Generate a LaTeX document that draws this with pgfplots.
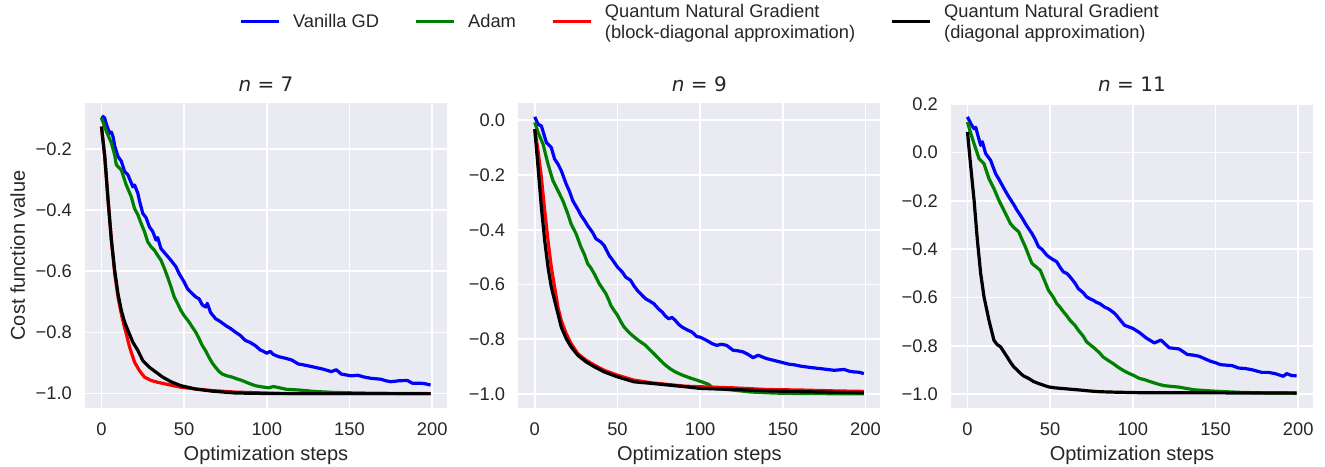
\documentclass[border=0pt]{standalone}
\usepackage{fontspec}
\setmainfont{Liberation Sans}
\newfontfamily\dejavu{DejaVu Sans}
\usepackage{pgfplots}
\pgfplotsset{compat=1.18}
\definecolor{bgc}{RGB}{234,234,242}
\definecolor{txt}{RGB}{38,38,38}
\definecolor{mgreen}{RGB}{0,128,0}
\pgfplotsset{panel/.style={
  width=362pt, height=305pt, scale only axis, anchor=south west,
  xmin=-9.95, xmax=208.95,
  axis background/.style={fill=bgc},
  axis line style={draw=none},
  grid=major, major grid style={white, line width=1.7pt},
  major tick length=0pt,
  xtick={0,50,100,150,200},
  xticklabels={0,50,100,150,200},
  tick label style={font=\fontsize{18.3}{22}\selectfont, text=txt, inner sep=0pt},
  xticklabel style={anchor=base, yshift=-27pt},
  yticklabel style={anchor=east, xshift=-13pt},
  xlabel={Optimization steps},
  every axis x label/.style={at={(axis description cs:0.5,-0.1705)}, anchor=base, font=\fontsize{20}{24}\selectfont, text=txt, inner sep=0pt},
  every axis y label/.style={at={(axis description cs:-0.16575,0.5)}, rotate=90, anchor=base, font=\fontsize{20}{24}\selectfont, text=txt, inner sep=0pt},
  every axis title/.style={at={(axis description cs:0.5,1.0393)}, anchor=base, font=\fontsize{20}{24}\selectfont\dejavu, text=txt, inner sep=0pt},
  every axis plot/.append style={line width=3.2pt, line join=round, no marks},
}}
\begin{document}
\begin{tikzpicture}
\useasboundingbox (0,0) rectangle (1325pt,466pt);
% ---------------- n = 7 ----------------
\begin{axis}[panel, at={(85pt,58pt)},
  ymin=-1.047, ymax=-0.05,
  ytick={-1,-0.8,-0.6,-0.4,-0.2},
  yticklabels={−1.0,−0.8,−0.6,−0.4,−0.2},
  ylabel={Cost function value},
  title={{\itshape n} = 7},
  legend columns=4,
  legend style={draw=none, fill=none, at={(axis description cs:0.3343,1.2656)}, anchor=west,
    font=\fontsize{18.3}{21}\selectfont, text=txt, inner sep=0pt, outer sep=0pt,
    column sep=0pt, row sep=0pt,
    cells={anchor=west, align=left, inner sep=0pt, outer sep=0pt}},
  legend image code/.code={\path[draw=none, fill=none] (-35pt,0pt) -- (50pt,0pt);\draw[#1, line width=3pt] (0pt,0pt) -- (38pt,0pt);},
]
\addplot[blue] coordinates {(0,-0.105) (1,-0.094) (2,-0.10) (3,-0.12) (5,-0.149) (6,-0.145) (7,-0.16) (8,-0.19) (10,-0.225) (12,-0.24) (14,-0.274) (16,-0.285) (19,-0.324) (20,-0.318) (22,-0.345) (23,-0.37) (25,-0.411) (27,-0.425) (29,-0.455) (31,-0.47) (33,-0.498) (34,-0.49) (36,-0.526) (39,-0.545) (42,-0.564) (45,-0.585) (47,-0.608) (50,-0.635) (52,-0.657) (54,-0.668) (57,-0.684) (59,-0.69) (61,-0.71) (63,-0.717) (64,-0.705) (66,-0.735) (69,-0.755) (72,-0.765) (75,-0.777) (78,-0.787) (81,-0.799) (84,-0.81) (87,-0.826) (90,-0.833) (93,-0.843) (96,-0.857) (98,-0.862) (100,-0.868) (102,-0.862) (104,-0.872) (107,-0.879) (111,-0.884) (115,-0.890) (119,-0.903) (124,-0.908) (129,-0.914) (134,-0.92) (139,-0.928) (142,-0.922) (145,-0.936) (151,-0.942) (155,-0.94) (159,-0.946) (163,-0.950) (169,-0.953) (172,-0.958) (175,-0.961) (180,-0.958) (185,-0.957) (188,-0.966) (193,-0.966) (196,-0.968) (199,-0.972)};
\addlegendentry{Vanilla GD}
\addplot[mgreen] coordinates {(0,-0.099) (3,-0.143) (6,-0.181) (8,-0.22) (9,-0.252) (12,-0.269) (15,-0.318) (18,-0.356) (20,-0.395) (22,-0.415) (24,-0.444) (26,-0.47) (28,-0.504) (30,-0.52) (32,-0.531) (34,-0.548) (36,-0.564) (38,-0.59) (40,-0.619) (42,-0.65) (44,-0.684) (46,-0.705) (48,-0.728) (50,-0.745) (53,-0.766) (55,-0.783) (57,-0.799) (59,-0.82) (61,-0.843) (63,-0.86) (65,-0.881) (67,-0.9) (69,-0.914) (71,-0.927) (73,-0.936) (76,-0.942) (79,-0.946) (82,-0.952) (85,-0.957) (89,-0.966) (93,-0.974) (97,-0.978) (101,-0.981) (104,-0.977) (106,-0.979) (112,-0.986) (119,-0.988) (129,-0.993) (140,-0.996) (155,-0.998) (170,-0.999) (199,-1.0)};
\addlegendentry{Adam}
\addplot[red] coordinates {(0,-0.127) (2,-0.225) (4,-0.367) (6,-0.498) (8,-0.608) (10,-0.684) (12,-0.739) (14,-0.785) (15,-0.804) (17,-0.848) (20,-0.897) (23,-0.925) (26,-0.946) (30,-0.957) (34,-0.963) (40,-0.970) (48,-0.979) (57,-0.985) (67,-0.990) (81,-0.995) (105,-0.999) (130,-1.0) (199,-1.0)};
\addlegendentry{Quantum Natural Gradient\\(block-diagonal approximation)}
\addplot[black] coordinates {(0,-0.127) (2,-0.225) (4,-0.367) (6,-0.498) (8,-0.597) (10,-0.673) (12,-0.728) (14,-0.766) (16,-0.793) (19,-0.832) (22,-0.859) (25,-0.892) (29,-0.914) (33,-0.930) (37,-0.946) (42,-0.961) (48,-0.974) (57,-0.985) (67,-0.992) (81,-0.998) (105,-1.0) (199,-1.0)};
\addlegendentry{Quantum Natural Gradient\\(diagonal approximation)}
\end{axis}
% ---------------- n = 9 ----------------
\begin{axis}[panel, at={(518.3pt,58pt)},
  ymin=-1.0506, ymax=0.0626,
  ytick={-1,-0.8,-0.6,-0.4,-0.2,0},
  yticklabels={−1.0,−0.8,−0.6,−0.4,−0.2,0.0},
  title={{\itshape n} = 9},
]
\addplot[blue] coordinates {(0,0.012) (2,-0.015) (4,-0.021) (7,-0.081) (10,-0.100) (12,-0.142) (14,-0.16) (16,-0.184) (19,-0.233) (21,-0.26) (23,-0.294) (26,-0.325) (28,-0.348) (30,-0.365) (32,-0.385) (35,-0.41) (37,-0.433) (40,-0.445) (42,-0.458) (45,-0.494) (47,-0.51) (50,-0.536) (53,-0.555) (55,-0.573) (58,-0.585) (60,-0.605) (62,-0.621) (65,-0.64) (67,-0.652) (70,-0.662) (72,-0.670) (75,-0.69) (77,-0.700) (79,-0.715) (81,-0.725) (83,-0.72) (85,-0.731) (87,-0.745) (89,-0.755) (92,-0.765) (95,-0.773) (98,-0.79) (100,-0.792) (104,-0.804) (107,-0.815) (110,-0.822) (113,-0.818) (116,-0.822) (120,-0.840) (123,-0.842) (126,-0.846) (129,-0.855) (132,-0.867) (135,-0.858) (140,-0.870) (144,-0.876) (148,-0.882) (154,-0.891) (157,-0.893) (161,-0.898) (167,-0.903) (173,-0.907) (177,-0.91) (181,-0.913) (187,-0.910) (190,-0.916) (193,-0.919) (196,-0.92) (199,-0.925)};
\addplot[mgreen] coordinates {(0,-0.008) (2,-0.045) (5,-0.087) (8,-0.160) (11,-0.221) (14,-0.257) (17,-0.294) (20,-0.342) (22,-0.379) (25,-0.415) (28,-0.464) (30,-0.49) (32,-0.524) (34,-0.54) (36,-0.561) (39,-0.597) (41,-0.615) (43,-0.633) (45,-0.66) (46,-0.676) (48,-0.695) (50,-0.712) (52,-0.735) (54,-0.755) (57,-0.775) (60,-0.791) (63,-0.805) (67,-0.822) (70,-0.84) (73,-0.858) (76,-0.877) (79,-0.894) (82,-0.908) (85,-0.919) (89,-0.93) (93,-0.939) (97,-0.947) (101,-0.955) (105,-0.964) (108,-0.979) (114,-0.982) (120,-0.985) (130,-0.992) (140,-0.995) (150,-0.997) (170,-0.998) (199,-0.999)};
\addplot[red] coordinates {(0,-0.033) (2,-0.112) (4,-0.209) (6,-0.330) (8,-0.439) (10,-0.536) (12,-0.609) (14,-0.682) (16,-0.731) (19,-0.779) (22,-0.816) (26,-0.852) (31,-0.876) (36,-0.894) (42,-0.913) (50,-0.931) (60,-0.949) (71,-0.959) (81,-0.965) (91,-0.971) (100,-0.973) (120,-0.977) (140,-0.983) (161,-0.985) (180,-0.988) (199,-0.990)};
\addplot[black] coordinates {(0,-0.033) (2,-0.172) (4,-0.318) (6,-0.439) (8,-0.536) (10,-0.609) (12,-0.658) (14,-0.706) (16,-0.755) (19,-0.797) (22,-0.828) (26,-0.858) (31,-0.882) (36,-0.900) (42,-0.919) (50,-0.937) (60,-0.955) (71,-0.961) (81,-0.967) (91,-0.973) (100,-0.979) (110,-0.981) (120,-0.983) (140,-0.988) (161,-0.991) (180,-0.993) (199,-0.995)};
\end{axis}
% ---------------- n = 11 ----------------
\begin{axis}[panel, at={(951pt,58pt)},
  ymin=-1.0574, ymax=0.2054,
  ytick={-1,-0.8,-0.6,-0.4,-0.2,0,0.2},
  yticklabels={−1.0,−0.8,−0.6,−0.4,−0.2,0.0,0.2},
  title={{\itshape n} = 11},
]
\addplot[blue] coordinates {(0,0.148) (2,0.120) (4,0.099) (5,0.105) (6,0.079) (8,0.030) (9,0.045) (11,-0.004) (14,-0.032) (17,-0.087) (19,-0.11) (21,-0.135) (23,-0.16) (25,-0.183) (28,-0.215) (30,-0.239) (33,-0.27) (35,-0.294) (37,-0.315) (39,-0.335) (41,-0.36) (43,-0.390) (45,-0.40) (48,-0.425) (51,-0.44) (54,-0.452) (56,-0.475) (58,-0.494) (60,-0.50) (62,-0.514) (65,-0.54) (67,-0.563) (70,-0.58) (72,-0.597) (74,-0.605) (76,-0.611) (78,-0.62) (80,-0.625) (83,-0.64) (85,-0.646) (88,-0.66) (90,-0.673) (92,-0.69) (95,-0.715) (97,-0.72) (100,-0.728) (104,-0.745) (108,-0.767) (113,-0.788) (117,-0.776) (122,-0.808) (128,-0.813) (133,-0.836) (136,-0.838) (140,-0.843) (147,-0.864) (150,-0.87) (153,-0.878) (160,-0.882) (164,-0.892) (168,-0.894) (172,-0.899) (178,-0.910) (182,-0.91) (186,-0.915) (191,-0.926) (193,-0.915) (196,-0.923) (199,-0.924)};
\addplot[mgreen] coordinates {(0,0.127) (2,0.079) (4,0.037) (7,-0.025) (10,-0.046) (13,-0.108) (16,-0.149) (19,-0.197) (21,-0.225) (23,-0.252) (26,-0.294) (28,-0.31) (31,-0.328) (33,-0.36) (35,-0.390) (37,-0.425) (39,-0.459) (41,-0.47) (44,-0.487) (46,-0.52) (49,-0.570) (52,-0.60) (54,-0.625) (56,-0.64) (58,-0.659) (60,-0.675) (62,-0.694) (65,-0.715) (67,-0.735) (70,-0.76) (72,-0.783) (75,-0.80) (77,-0.811) (80,-0.83) (82,-0.846) (85,-0.86) (88,-0.873) (91,-0.888) (94,-0.901) (97,-0.912) (100,-0.921) (104,-0.935) (107,-0.94) (110,-0.947) (115,-0.958) (119,-0.965) (128,-0.971) (137,-0.982) (150,-0.988) (166,-0.993) (180,-0.995) (199,-0.996)};
\addplot[black] coordinates {(0,0.086) (2,-0.059) (4,-0.197) (6,-0.363) (8,-0.501) (10,-0.597) (13,-0.694) (16,-0.777) (18,-0.795) (20,-0.804) (22,-0.825) (24,-0.846) (26,-0.868) (28,-0.887) (30,-0.90) (32,-0.914) (34,-0.925) (37,-0.935) (40,-0.948) (43,-0.956) (46,-0.963) (49,-0.970) (53,-0.974) (58,-0.977) (63,-0.98) (68,-0.983) (74,-0.987) (80,-0.990) (90,-0.992) (104,-0.994) (130,-0.994) (160,-0.995) (199,-0.995)};
\end{axis}
\end{tikzpicture}
\end{document}
